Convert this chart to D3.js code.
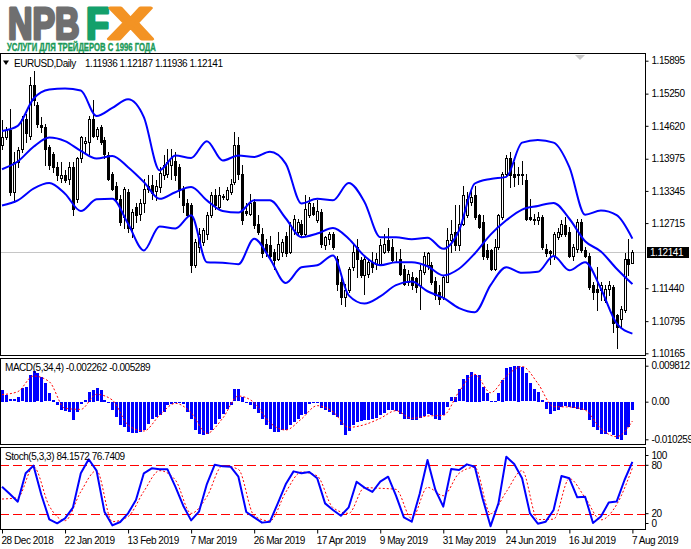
<!DOCTYPE html>
<html>
<head>
<meta charset="utf-8">
<script src="https://cdn.jsdelivr.net/npm/d3@7"></script>
<style>
  body { margin: 0; background: #fff; }
  svg { display: block; font-family: "Liberation Sans", Arial, sans-serif; }
  .lbl { font-size: 10px; letter-spacing: -0.45px; fill: #000; }
</style>
</head>
<body>
<div id="chart"></div>
<script>
// EURUSD daily candles, 28 Dec 2018 .. 7 Aug 2019
const opens = [
  1.1424,1.1440,1.1453,1.1332,1.1391,1.1417,1.1476,1.1443,1.1541,1.1502,
  1.1463,1.1460,1.1420,1.1407,1.1381,1.1360,1.1365,1.1358,1.1381,1.1319,
  1.1398,1.1429,1.1430,1.1476,1.1443,1.1460,1.1434,1.1404,1.1368,1.1345,
  1.1319,1.1283,1.1332,1.1261,1.1303,1.1290,1.1310,1.1339,1.1347,1.1334,
  1.1342,1.1365,1.1368,1.1385,1.1394,1.1381,1.1339,1.1310,1.1306,1.1189,
  1.1225,1.1234,1.1251,1.1287,1.1326,1.1303,1.1322,1.1319,1.1332,1.1352,
  1.1424,1.1368,1.1295,1.1290,1.1313,1.1270,1.1251,1.1231,1.1228,1.1215,
  1.1202,1.1215,1.1247,1.1215,1.1257,1.1254,1.1270,1.1251,1.1287,1.1303,
  1.1277,1.1293,1.1228,1.1241,1.1251,1.1202,1.1156,1.1127,1.1140,1.1185,
  1.1225,1.1199,1.1169,1.1172,1.1195,1.1192,1.1192,1.1215,1.1238,1.1225,
  1.1202,1.1202,1.1182,1.1156,1.1166,1.1163,1.1150,1.1176,1.1189,1.1189,
  1.1159,1.1137,1.1127,1.1156,1.1238,1.1254,1.1228,1.1270,1.1287,1.1313,
  1.1326,1.1287,1.1274,1.1218,1.1218,1.1182,1.1225,1.1283,1.1368,1.1398,
  1.1368,1.1365,1.1365,1.1355,1.1283,1.1280,1.1277,1.1283,1.1221,1.1216,
  1.1208,1.1244,1.1251,1.1267,1.1254,1.1208,1.1221,1.1274,1.1218,1.1208,
  1.1150,1.1143,1.1140,1.1120,1.1143,1.1146,1.1091,1.1084,1.1101,1.1202,
  1.11936
];
const highs = [
  1.1473,1.1460,1.1495,1.1411,1.1420,1.1482,1.1486,1.1558,1.1569,1.1509,
  1.1479,1.1466,1.1424,1.1411,1.1391,1.1391,1.1375,1.1391,1.1391,1.1401,
  1.1443,1.1440,1.1482,1.1512,1.1460,1.1463,1.1440,1.1411,1.1372,1.1352,
  1.1326,1.1342,1.1339,1.1300,1.1310,1.1319,1.1358,1.1365,1.1365,1.1355,
  1.1381,1.1404,1.1417,1.1417,1.1411,1.1388,1.1345,1.1319,1.1310,1.1241,
  1.1261,1.1261,1.1293,1.1332,1.1339,1.1342,1.1329,1.1342,1.1358,1.1450,
  1.1440,1.1385,1.1310,1.1329,1.1319,1.1287,1.1261,1.1241,1.1247,1.1221,
  1.1254,1.1241,1.1254,1.1274,1.1287,1.1280,1.1277,1.1326,1.1323,1.1310,
  1.1316,1.1300,1.1247,1.1254,1.1254,1.1208,1.1163,1.1153,1.1185,1.1228,
  1.1241,1.1205,1.1205,1.1199,1.1215,1.1212,1.1241,1.1251,1.1261,1.1241,
  1.1215,1.1221,1.1189,1.1179,1.1176,1.1166,1.1189,1.1215,1.1215,1.1195,
  1.1166,1.1150,1.1169,1.1261,1.1277,1.1306,1.1306,1.1345,1.1332,1.1339,
  1.1345,1.1290,1.1287,1.1231,1.1221,1.1241,1.1290,1.1372,1.1404,1.1411,
  1.1391,1.1381,1.1394,1.1368,1.1319,1.1290,1.1293,1.1287,1.1231,1.1218,
  1.1254,1.1261,1.1277,1.1283,1.1264,1.1231,1.1280,1.1280,1.1225,1.1212,
  1.1156,1.1185,1.1156,1.1150,1.1159,1.1150,1.1094,1.1110,1.1212,1.1241,
  1.12187
];
const lows = [
  1.1417,1.1437,1.1326,1.1313,1.1381,1.1411,1.1430,1.1437,1.1502,1.1460,
  1.1450,1.1385,1.1378,1.1372,1.1355,1.1352,1.1352,1.1349,1.1287,1.1313,
  1.1391,1.1411,1.1407,1.1440,1.1437,1.1427,1.1398,1.1355,1.1336,1.1316,
  1.1267,1.1261,1.1254,1.1244,1.1274,1.1277,1.1293,1.1332,1.1319,1.1316,
  1.1332,1.1358,1.1362,1.1358,1.1355,1.1323,1.1293,1.1283,1.1176,1.1185,
  1.1215,1.1228,1.1241,1.1283,1.1300,1.1300,1.1319,1.1316,1.1329,1.1349,
  1.1358,1.1270,1.1287,1.1287,1.1261,1.1251,1.1205,1.1208,1.1202,1.1182,
  1.1199,1.1208,1.1208,1.1212,1.1251,1.1251,1.1247,1.1247,1.1283,1.1287,
  1.1274,1.1225,1.1221,1.1231,1.1221,1.1140,1.1114,1.1110,1.1137,1.1179,
  1.1166,1.1166,1.1133,1.1166,1.1176,1.1182,1.1189,1.1212,1.1215,1.1195,
  1.1195,1.1169,1.1150,1.1150,1.1143,1.1137,1.1104,1.1172,1.1182,1.1153,
  1.1123,1.1114,1.1123,1.1156,1.1215,1.1218,1.1218,1.1267,1.1283,1.1306,
  1.1280,1.1261,1.1202,1.1202,1.1179,1.1179,1.1221,1.1280,1.1365,1.1342,
  1.1345,1.1349,1.1349,1.1277,1.1277,1.1270,1.1270,1.1221,1.1208,1.1192,
  1.1202,1.1241,1.1247,1.1247,1.1205,1.1199,1.1215,1.1215,1.1205,1.1143,
  1.1123,1.1101,1.1120,1.1117,1.1130,1.1058,1.1026,1.1068,1.1097,1.1169,
  1.11936
];
const closes = [
  1.1440,1.1453,1.1333,1.1391,1.1414,1.1476,1.1447,1.1541,1.1512,1.1466,
  1.1460,1.1417,1.1385,1.1381,1.1365,1.1365,1.1355,1.1381,1.1300,1.1398,
  1.1440,1.1432,1.1476,1.1443,1.1456,1.1430,1.1407,1.1358,1.1339,1.1319,
  1.1274,1.1339,1.1261,1.1293,1.1287,1.1310,1.1339,1.1344,1.1331,1.1344,
  1.1370,1.1385,1.1391,1.1398,1.1365,1.1339,1.1306,1.1287,1.1189,1.1234,
  1.1251,1.1257,1.1287,1.1326,1.1306,1.1326,1.1324,1.1336,1.1349,1.1424,
  1.1368,1.1277,1.1291,1.1310,1.1267,1.1254,1.1212,1.1215,1.1208,1.1199,
  1.1231,1.1234,1.1212,1.1267,1.1280,1.1274,1.1251,1.1300,1.1310,1.1290,
  1.1296,1.1231,1.1244,1.1251,1.1225,1.1153,1.1127,1.1140,1.1182,1.1215,
  1.1202,1.1169,1.1202,1.1195,1.1185,1.1202,1.1228,1.1231,1.1218,1.1199,
  1.1201,1.1172,1.1153,1.1172,1.1150,1.1146,1.1179,1.1208,1.1212,1.1156,
  1.1130,1.1123,1.1166,1.1238,1.1251,1.1228,1.1270,1.1326,1.1319,1.1323,
  1.1283,1.1264,1.1208,1.1205,1.1182,1.1225,1.1287,1.1368,1.1398,1.1365,
  1.1362,1.1367,1.1368,1.1280,1.1280,1.1277,1.1283,1.1225,1.1212,1.1212,
  1.1251,1.1254,1.1270,1.1251,1.1208,1.1225,1.1274,1.1218,1.1208,1.1146,
  1.1137,1.1137,1.1150,1.1143,1.1150,1.1075,1.1068,1.1104,1.1202,1.1192,
  1.12141
];

// Bollinger bands, read every 4th bar
const bbUpper = [
  1.1452,1.1462,1.1515,1.1533,1.1535,1.1531,1.1481,1.1497,1.1514,1.1479,
  1.1375,1.1404,1.1399,1.1432,1.1394,1.1404,1.1401,1.1411,1.1388,1.1310,
  1.1319,1.1316,1.1350,1.1313,1.1244,1.1244,1.1240,1.1243,1.1221,1.1257,
  1.1349,1.1358,1.1362,1.1429,1.1434,1.1429,1.1381,1.1288,1.1296,1.1287,
  1.1241
];
const bbMiddle = [
  1.1377,1.1392,1.1421,1.1439,1.1432,1.1413,1.1398,1.1403,1.1381,1.1352,
  1.1319,1.1332,1.1342,1.1316,1.1295,1.1292,1.1316,1.1316,1.1281,1.1244,
  1.1251,1.1262,1.1241,1.1207,1.1189,1.1195,1.1195,1.1187,1.1169,1.1182,
  1.1212,1.1249,1.1277,1.1298,1.1305,1.1311,1.1280,1.1236,1.1216,1.1182,
  1.1152
];
const bbLower = [
  1.1306,1.1316,1.1339,1.1350,1.1329,1.1295,1.1318,1.1319,1.1270,1.1218,
  1.1265,1.1261,1.1287,1.1195,1.1194,1.1191,1.1241,1.1202,1.1154,1.1185,
  1.1189,1.1208,1.1130,1.1114,1.1128,1.1150,1.1157,1.1138,1.1125,1.1105,
  1.1097,1.1150,1.1185,1.1174,1.1176,1.1207,1.1179,1.1195,1.1143,1.1075,
  1.1055
];

// MACD(5,34,4) histogram, one value per bar
const macdMain = [
  0.00318,0.00182,0.00064,0.00064,0.00136,0.00363,0.00409,0.00727,0.00845,0.00772,
  0.00681,0.00500,0.00227,0.00045,-0.00091,-0.00209,-0.00245,-0.00273,-0.00500,-0.00273,
  -0.00064,0.00045,0.00273,0.00318,0.00363,0.00318,0.00045,-0.00018,-0.00227,-0.00409,
  -0.00636,-0.00681,-0.00818,-0.00845,-0.00836,-0.00818,-0.00772,-0.00591,-0.00454,-0.00409,
  -0.00345,-0.00273,-0.00091,-0.00045,-0.00027,-0.00018,-0.00045,-0.00273,-0.00454,-0.00772,
  -0.00863,-0.00909,-0.00863,-0.00754,-0.00609,-0.00454,-0.00318,-0.00182,-0.00091,0.00336,
  0.00336,0.00136,-0.00005,-0.00091,-0.00182,-0.00300,-0.00454,-0.00636,-0.00727,-0.00818,
  -0.00818,-0.00772,-0.00772,-0.00636,-0.00545,-0.00454,-0.00363,-0.00318,-0.00045,-0.00027,
  -0.00018,-0.00154,-0.00209,-0.00273,-0.00363,-0.00409,-0.00636,-0.00909,-0.00800,-0.00636,
  -0.00545,-0.00518,-0.00482,-0.00500,-0.00454,-0.00436,-0.00363,-0.00300,-0.00227,-0.00209,
  -0.00245,-0.00336,-0.00454,-0.00454,-0.00500,-0.00500,-0.00436,-0.00391,-0.00318,-0.00363,
  -0.00454,-0.00500,-0.00363,-0.00136,0.00118,0.00136,0.00336,0.00609,0.00727,0.00818,
  0.00727,0.00727,0.00391,0.00227,0.00009,0.00005,0.00227,0.00591,0.00909,0.00940,
  0.00960,0.00981,0.00940,0.00772,0.00500,0.00336,0.00273,0.00045,-0.00182,-0.00318,
  -0.00245,-0.00209,-0.00136,-0.00118,-0.00136,-0.00154,-0.00182,-0.00209,-0.00227,-0.00500,
  -0.00681,-0.00772,-0.00863,-0.00881,-0.00818,-0.00909,-0.01010,-0.01026,-0.00909,-0.00681,
  -0.002262
];
// MACD signal, read every 4th bar
const macdSignal = [
  0.00191,0.00273,0.00700,0.00545,-0.00182,-0.00209,0.00200,0.00045,-0.00636,-0.00799,
  -0.00372,-0.00045,-0.00300,-0.00863,-0.00454,0.00154,-0.00027,-0.00572,-0.00772,-0.00472,
  -0.00109,-0.00273,-0.00700,-0.00627,-0.00454,-0.00245,-0.00454,-0.00391,-0.00372,0.00273,
  0.00745,0.00245,0.00700,0.00960,0.00500,-0.00136,-0.00145,-0.00227,-0.00736,-0.00954,
  -0.005289
];

// Stochastic(5,3,3): %K read every 2nd bar, %D every 4th bar
const stochK = [
  53.5,44.4,34.9,70.1,79.6,43.2,13.0,8.0,14.2,27.5,
  70.1,87.5,73.4,22.5,5.5,9.7,20.4,37.0,70.1,76.3,
  75.0,75.0,53.5,29.9,11.7,22.5,56.8,80.8,78.7,78.3,
  65.9,22.1,15.5,8.9,10.1,32.8,56.4,72.5,70.1,71.7,
  63.9,32.8,24.6,17.5,27.9,59.7,52.3,46.9,59.7,65.9,
  42.3,15.5,10.1,44.4,86.6,49.4,28.7,75.4,74.2,81.2,
  78.3,38.6,4.5,32.8,90.7,81.6,63.9,20.4,7.6,10.1,
  24.6,66.8,63.9,40.3,41.1,8.4,16.4,33.8,35.0,61.8,
  84.1572
];
const stochD = [
  38.2,39.9,78.3,29.5,11.3,47.3,73.4,10.1,16.4,47.7,
  73.4,61.8,20.4,41.1,79.6,75.0,17.5,10.9,46.5,71.7,
  66.8,27.5,20.4,52.3,51.5,50.2,13.8,52.7,42.3,70.1,
  77.5,19.9,47.3,73.4,12.7,13.2,63.4,39.9,12.3,31.3,
  76.7409
];

const priceTicks = [1.15895, 1.15250, 1.14620, 1.13975, 1.13345, 1.12715, 1.11440, 1.10795, 1.10165];
const macdTicks = [0.009812, 0, -0.010259];
const stochTicks = [100, 80, 20, 0];
const stochLevels = [80, 20];
const dateIdx = [0, 16, 32, 48, 64, 80, 96, 112, 128, 144, 160];
const dateLabels = ["28 Dec 2018", "22 Jan 2019", "13 Feb 2019", "7 Mar 2019", "26 Mar 2019",
  "17 Apr 2019", "9 May 2019", "31 May 2019", "24 Jun 2019", "16 Jul 2019", "7 Aug 2019"];

const W = 691, H = 549;
const rightEdge = 645.5;
const panels = {
  main: { top: 53.5, bottom: 355.5 },
  macd: { top: 358.5, bottom: 444.5 },
  stoch: { top: 447.5, bottom: 529.5 },
};

const svg = d3.select("#chart").append("svg").attr("width", W).attr("height", H);

const x = d3.scaleLinear().domain([0, 160]).range([2, 632.4]);
const y = d3.scaleLinear().domain([1.10165, 1.15895]).range([353.3, 60.7]);
const ym = d3.scaleLinear().domain([-0.010259, 0.009812]).range([439.3, 365.7]);
const ys = d3.scaleLinear().domain([0, 100]).range([529.8, 449.2]);

const bbIdx = d3.range(0, 161, 4);
const kIdx = d3.range(0, 161, 2);
const dIdx = d3.range(0, 161, 4);

// clip paths per panel
const defs = svg.append("defs");
Object.entries(panels).forEach(([key, p]) => {
  defs.append("clipPath").attr("id", `clip-${key}`)
    .append("rect").attr("x", 1).attr("y", p.top + 0.5)
    .attr("width", rightEdge - 1).attr("height", p.bottom - p.top - 1);
});

// ---- logo ----
// letters compressed with a horizontal scale so their boxes match the ink
const logoParts = [
  { t: "NPB", x: 8, sx: 0.77, color: "#6f6f70" },
  { t: "F", x: 86, sx: 0.86, color: "#13a06b" },
  { t: "X", x: 108.5, sx: 1.5, color: "#f39324" },
];
logoParts.forEach((p) => {
  svg.append("text")
    .attr("transform", `translate(${p.x},39) scale(${p.sx},1)`)
    .attr("font-size", 44).attr("font-weight", "bold")
    .attr("fill", p.color).attr("stroke", p.color).attr("stroke-width", 3)
    .attr("stroke-linejoin", "round")
    .text(p.t);
});
svg.append("text")
  .attr("transform", "translate(7,50.5) scale(0.70,1)")
  .attr("font-size", 11).attr("font-weight", "bold")
  .attr("fill", "#1a9a58").attr("stroke", "#1a9a58").attr("stroke-width", 0.4)
  .text("УСЛУГИ ДЛЯ ТРЕЙДЕРОВ С 1996 ГОДА");

// ---- main panel ----
const mainG = svg.append("g").attr("clip-path", "url(#clip-main)");
const lastClose = closes[closes.length - 1];

mainG.append("line")
  .attr("x1", 0).attr("x2", rightEdge)
  .attr("y1", Math.round(y(lastClose)) + 0.5).attr("y2", Math.round(y(lastClose)) + 0.5)
  .attr("stroke", "#c6c6c6");

const candles = mainG.append("g").attr("shape-rendering", "crispEdges");
d3.range(opens.length).forEach((i) => {
  const cx = Math.round(x(i));
  const o = opens[i], c = closes[i];
  candles.append("line")
    .attr("x1", cx + 0.5).attr("x2", cx + 0.5)
    .attr("y1", Math.round(y(highs[i]))).attr("y2", Math.round(y(lows[i])) + 1)
    .attr("stroke", "#000");
  const top = Math.round(y(Math.max(o, c)));
  const bot = Math.round(y(Math.min(o, c)));
  candles.append("rect")
    .attr("x", cx - 0.5).attr("width", 2)
    .attr("y", top + 0.5).attr("height", Math.max(0, bot - top))
    .attr("fill", c >= o ? "#fff" : "#000")
    .attr("stroke", "#000");
});

const bandLine = (vals) => d3.line()
  .x((d, k) => x(bbIdx[k]))
  .y((d) => y(d))
  .curve(d3.curveMonotoneX)(vals);

[bbUpper, bbMiddle, bbLower].forEach((band) => {
  mainG.append("path").attr("d", bandLine(band))
    .attr("fill", "none").attr("stroke", "#0000ff").attr("stroke-width", 2);
});

// header
svg.append("path").attr("d", "M3,60.5 L9,60.5 L6,65 Z").attr("fill", "#000");
svg.append("text").attr("class", "lbl").attr("x", 14).attr("y", 66.5).text("EURUSD,Daily");
svg.append("text").attr("class", "lbl").attr("x", 85).attr("y", 66.5)
  .text(`${opens[160].toFixed(5)} ${highs[160].toFixed(5)} ${lows[160].toFixed(5)} ${closes[160].toFixed(5)}`);

// shift marker
svg.append("path").attr("d", "M575,55 L585,55 L580,60 Z").attr("fill", "#c8c8c8");

// ---- MACD panel ----
const macdG = svg.append("g").attr("clip-path", "url(#clip-macd)");
macdG.append("g").attr("shape-rendering", "crispEdges")
  .selectAll("rect").data(macdMain).join("rect")
  .attr("x", (d, i) => Math.round(x(i)) - 1)
  .attr("width", 3)
  .attr("y", (d) => Math.round(Math.min(ym(0), ym(d))))
  .attr("height", (d) => Math.max(1, Math.round(Math.abs(ym(d) - ym(0)))))
  .attr("fill", "#0000ff");

macdG.append("path")
  .attr("d", d3.line().x((d, k) => x(bbIdx[k])).y((d) => ym(d)).curve(d3.curveMonotoneX)(macdSignal))
  .attr("fill", "none").attr("stroke", "#ff0000").attr("stroke-width", 1)
  .attr("stroke-dasharray", "2,2");

svg.append("text").attr("class", "lbl").attr("x", 5).attr("y", 370.5)
  .text(`MACD(5,34,4) ${macdMain[160].toFixed(6)} ${macdSignal[40].toFixed(6)}`);

// ---- Stochastic panel ----
const stochG = svg.append("g").attr("clip-path", "url(#clip-stoch)");
stochLevels.forEach((lv) => {
  stochG.append("line")
    .attr("x1", 0).attr("x2", rightEdge)
    .attr("y1", Math.round(ys(lv)) + 0.5).attr("y2", Math.round(ys(lv)) + 0.5)
    .attr("stroke", "#ff0000").attr("stroke-dasharray", "9,4");
});
stochG.append("path")
  .attr("d", d3.line().x((d, k) => x(dIdx[k])).y((d) => ys(d)).curve(d3.curveMonotoneX)(stochD))
  .attr("fill", "none").attr("stroke", "#ff0000").attr("stroke-width", 1)
  .attr("stroke-dasharray", "2,2");
stochG.append("path")
  .attr("d", d3.line().x((d, k) => x(kIdx[k])).y((d) => ys(d))(stochK))
  .attr("fill", "none").attr("stroke", "#0000ff").attr("stroke-width", 2)
  .attr("stroke-linejoin", "round");

svg.append("text").attr("class", "lbl").attr("x", 5).attr("y", 460)
  .text(`Stoch(5,3,3) ${stochK[80].toFixed(4)} ${stochD[40].toFixed(4)}`);

// ---- frames ----
Object.values(panels).forEach((p) => {
  svg.append("rect")
    .attr("x", 0.5).attr("y", p.top)
    .attr("width", rightEdge - 0.5).attr("height", p.bottom - p.top)
    .attr("fill", "none").attr("stroke", "#000").attr("shape-rendering", "crispEdges");
});

// ---- axes ----
function styleAxis(g) {
  g.select(".domain").remove();
  g.selectAll("line").attr("stroke", "#000");
  g.selectAll("text").attr("class", "lbl").attr("font-size", null).attr("font-family", null);
  g.attr("font-size", null).attr("font-family", null);
}

svg.append("g").attr("transform", `translate(${rightEdge},0)`)
  .call(d3.axisRight(y).tickValues(priceTicks).tickFormat(d3.format(".5f")).tickSize(3).tickPadding(3))
  .call(styleAxis);

svg.append("g").attr("transform", `translate(${rightEdge},0)`)
  .call(d3.axisRight(ym).tickValues(macdTicks)
    .tickFormat((d) => (d === 0 ? "0.00" : d.toFixed(6))).tickSize(3).tickPadding(3))
  .call(styleAxis);

const stochAxis = svg.append("g").attr("transform", `translate(${rightEdge},0)`)
  .call(d3.axisRight(ys).tickValues(stochTicks).tickSize(3).tickPadding(3))
  .call(styleAxis);
stochAxis.selectAll(".tick").attr("transform", (d) => {
  const p = panels.stoch;
  const yy = Math.min(Math.max(ys(d), p.top + 8), p.bottom - 6);
  return `translate(0,${yy})`;
});

// price tag for the last close
const tagY = y(lastClose);
svg.append("rect").attr("x", 647).attr("y", Math.round(tagY) - 5).attr("width", 42).attr("height", 11)
  .attr("fill", "#000");
svg.append("text").attr("class", "lbl").attr("x", 650).attr("y", tagY + 3.5)
  .style("fill", "#fff").text(d3.format(".5f")(lastClose));

// date axis
const dateAxis = svg.append("g").attr("transform", `translate(0,${panels.stoch.bottom})`)
  .call(d3.axisBottom(x).tickValues(dateIdx)
    .tickFormat((d, i) => dateLabels[i]).tickSize(4).tickPadding(3))
  .call(styleAxis);
dateAxis.selectAll("text").attr("text-anchor", "start").attr("dx", -1);
</script>
</body>
</html>
